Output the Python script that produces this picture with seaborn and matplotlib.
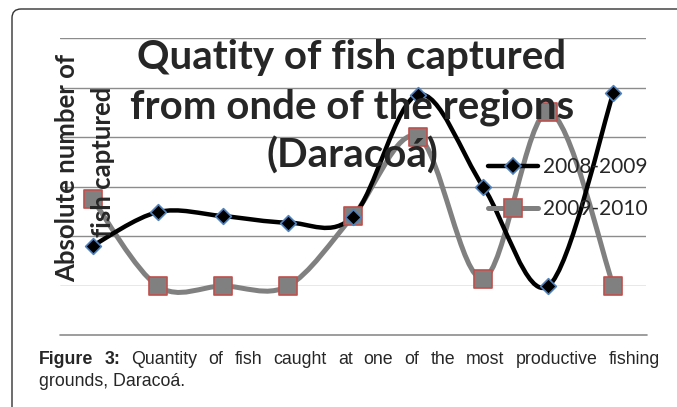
import matplotlib.pyplot as plt
import matplotlib.patches as mpatches
from matplotlib.path import Path
from matplotlib.lines import Line2D
from matplotlib.transforms import IdentityTransform
import numpy as np
import seaborn as sns
import pandas as pd

# values (y in gridline units, 9 sampling points)
points = list(range(1, 10))
catch_0809 = [0.81, 1.49, 1.41, 1.28, 1.40, 3.86, 2.00, 0.00, 3.90]
catch_0910 = [1.75, 0.00, 0.00, 0.00, 1.41, 3.01, 0.15, 3.51, 0.00]
series_names = ['2008-2009', '2009-2010']
title_lines = ['Quatity of fish captured', 'from onde of the regions', '(Daracoá)']

W, H = 677, 407


def smooth_path(x, y):
    # excel style smoothed line: cubic bezier through the points
    x = np.asarray(x, float)
    y = np.asarray(y, float)
    pts = np.column_stack([x, y])
    n = len(pts)
    verts = [pts[0]]
    codes = [Path.MOVETO]
    for i in range(n - 1):
        p0 = pts[i - 1] if i > 0 else pts[i]
        p1 = pts[i]
        p2 = pts[i + 1]
        p3 = pts[i + 2] if i + 2 < n else pts[i + 1]
        c1 = p1 + (p2 - p0) / 6.0
        c2 = p2 - (p3 - p1) / 6.0
        verts += [c1, c2, p2]
        codes += [Path.CURVE4] * 3
    return Path(verts, codes)


df = pd.DataFrame({'point': points * 2,
                   'catch': catch_0809 + catch_0910,
                   'season': [series_names[0]] * 9 + [series_names[1]] * 9})

sns.set_style('white')
fig = plt.figure(figsize=(W / 100, H / 100), dpi=100)

# rounded frame around the figure panel (runs off right/bottom)
frame = mpatches.FancyBboxPatch((12, -30), 720, 407 - 9 + 30,
                                boxstyle='round,pad=0,rounding_size=9',
                                transform=IdentityTransform(), fill=False,
                                edgecolor='#333333', linewidth=1.0)
fig.patches.append(frame)

ax = fig.add_axes([60 / W, (H - 286) / H, (646 - 60) / W, (286 - 38) / H])
ax.set_facecolor('none')
ax.set_xlim(0.5, 9.5)
ax.set_ylim(0, 5)
ax.set_yticks(range(0, 6))
ax.set_xticks([])
ax.set_yticklabels([])
for s in ax.spines.values():
    s.set_visible(False)
ax.grid(axis='y', color='#8c8c8c', linewidth=1.0)
ax.tick_params(left=False, bottom=False)

line_styles = {series_names[0]: dict(color='black', lw=3.2),
               series_names[1]: dict(color='#808080', lw=3.6)}
for name, vals, z in [(series_names[1], catch_0910, 3), (series_names[0], catch_0809, 4)]:
    patch = mpatches.PathPatch(smooth_path(points, vals), fill=False,
                               edgecolor=line_styles[name]['color'],
                               linewidth=line_styles[name]['lw'],
                               capstyle='round', zorder=z, clip_on=False)
    ax.add_patch(patch)

sns.scatterplot(data=df[df.season == series_names[1]], x='point', y='catch',
                marker='s', s=13 ** 2, color='#808080', edgecolor='#c0504d',
                linewidth=1.2, ax=ax, zorder=5, legend=False, clip_on=False)
sns.scatterplot(data=df[df.season == series_names[0]], x='point', y='catch',
                marker='D', s=8 ** 2, color='black', edgecolor='#4f81bd',
                linewidth=1.2, ax=ax, zorder=6, legend=False, clip_on=False)
ax.set_xlabel('')
ax.set_ylabel('')

handles = [Line2D([], [], color='black', lw=3.2, marker='D', markersize=8,
                  markerfacecolor='black', markeredgecolor='#4f81bd', markeredgewidth=1.2),
           Line2D([], [], color='#808080', lw=3.6, marker='s', markersize=13,
                  markerfacecolor='#808080', markeredgecolor='#c0504d', markeredgewidth=1.2)]
leg = fig.legend(handles, series_names, loc='center left',
                 bbox_to_anchor=(488 / W, (H - 188) / H), bbox_transform=fig.transFigure,
                 frameon=False, borderpad=0, borderaxespad=0, handlelength=2.4,
                 handletextpad=0.25, labelspacing=1.05,
                 prop={'family': 'Lato', 'size': 15})
leg.set_zorder(1)

for line, ypix in zip(title_lines, [58, 107, 156]):
    fig.text(352 / W, (H - ypix) / H, line, ha='center', va='center',
             family='Lato', weight='bold', fontsize=29, zorder=0)

fig.text(67 / W, (H - 168) / H, 'Absolute number of', rotation=90,
         ha='center', va='center', family='Lato', weight='bold', fontsize=18.5, zorder=0)
fig.text(103 / W, (H - 162) / H, 'fish captured', rotation=90,
         ha='center', va='center', family='Lato', weight='bold', fontsize=18.5, zorder=0)

# separator and caption (first line justified)
fig.add_artist(Line2D([60 / W, 647 / W], [(H - 335) / H] * 2,
                      transform=fig.transFigure, color='#8c8c8c', lw=1.2))
renderer = fig.canvas.get_renderer()
cap_words = ['Figure', '3:', 'Quantity', 'of', 'fish', 'caught', 'at', 'one', 'of',
             'the', 'most', 'productive', 'fishing']
cap_left, cap_right, cap_size = 39, 660, 12.8
arts = []
for i, w in enumerate(cap_words):
    arts.append(fig.text(0, (H - 360) / H, w, ha='left', va='center',
                         family='Liberation Sans', fontsize=cap_size,
                         weight='bold' if i < 2 else 'normal'))
widths = [a.get_window_extent(renderer).width for a in arts]
gap = (cap_right - cap_left - sum(widths)) / (len(arts) - 1)
xpos = cap_left
for a, w in zip(arts, widths):
    a.set_x(xpos / W)
    xpos += w + gap
fig.text(cap_left / W, (H - 381) / H, 'grounds, Daracoá.', ha='left', va='center',
         family='Liberation Sans', fontsize=cap_size)

fig.savefig('out.png', dpi=100)
